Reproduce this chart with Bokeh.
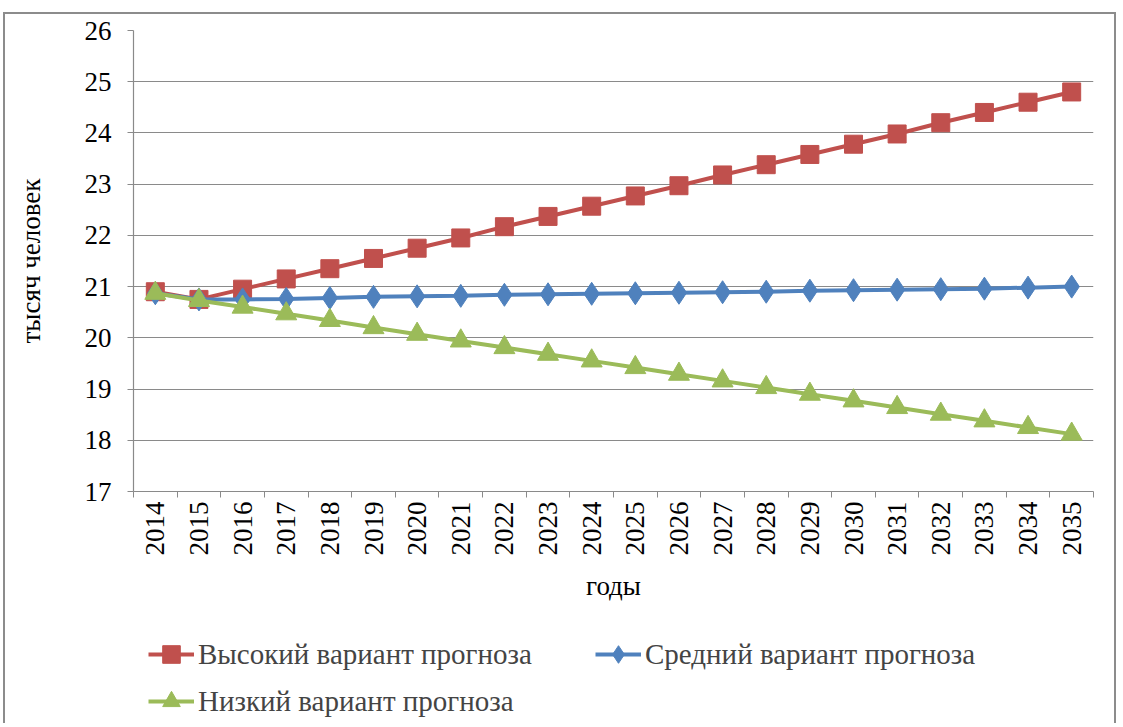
from bokeh.plotting import figure
from bokeh.models import FixedTicker, Legend, LegendItem, Range1d
from bokeh.layouts import column
from bokeh.embed import file_html
from bokeh.resources import INLINE
import math

years = [str(y) for y in range(2014, 2036)]
high = [20.9, 20.75, 20.95, 21.15, 21.35, 21.55, 21.75, 21.95, 22.17, 22.37, 22.57,
        22.77, 22.97, 23.18, 23.38, 23.58, 23.78, 23.98, 24.2, 24.4, 24.6, 24.8]
mid = [20.87, 20.75, 20.75, 20.76, 20.78, 20.8, 20.81, 20.82, 20.84, 20.85, 20.86,
       20.87, 20.88, 20.89, 20.9, 20.92, 20.93, 20.94, 20.95, 20.96, 20.98, 21.0]
low = [20.87, 20.73, 20.6, 20.47, 20.34, 20.2, 20.07, 19.94, 19.81, 19.68, 19.55,
       19.42, 19.29, 19.16, 19.03, 18.9, 18.77, 18.64, 18.51, 18.38, 18.25, 18.12]
labels = ["Высокий вариант прогноза", "Средний вариант прогноза", "Низкий вариант прогноза"]
y_ticks = list(range(17, 27))

RED, BLUE, GREEN = "#C0504D", "#4F81BD", "#9BBB59"
GRID = "#8a8a8a"
BORDER = "2px solid #8c8c8c"
FONT = "Liberation Serif"

x = list(range(len(years)))

p = figure(width=1113, height=596, output_backend="svg", toolbar_location=None,
           x_range=(-0.5, len(years) - 0.5), y_range=(17, 26),
           min_border_left=128, min_border_top=16, min_border_right=25,
           min_border_bottom=119)
p.styles = {"border-top": BORDER, "border-left": BORDER, "border-right": BORDER,
            "margin-left": "3px", "margin-top": "12px"}
p.outline_line_color = None
p.xgrid.grid_line_color = None
p.ygrid.grid_line_color = GRID
p.ygrid.grid_line_width = 1.2

p.xaxis.ticker = FixedTicker(ticks=x, minor_ticks=[i - 0.5 for i in range(len(years) + 1)])
p.xaxis.major_label_overrides = {i: years[i] for i in x}
p.xaxis.major_label_orientation = math.pi / 2
p.xaxis.major_tick_line_color = None
p.xaxis.major_tick_out = 6
p.xaxis.major_tick_in = 0
p.xaxis.major_label_standoff = 4
p.xaxis.minor_tick_line_color = GRID
p.xaxis.minor_tick_out = 6
p.xaxis.minor_tick_in = 0
p.xaxis.axis_label = "годы"
p.xaxis.axis_label_standoff = 12

p.yaxis.ticker = FixedTicker(ticks=y_ticks)
p.yaxis.minor_tick_line_color = None
p.yaxis.major_tick_out = 6
p.yaxis.major_tick_in = 0
p.yaxis.major_tick_line_color = GRID
p.yaxis.major_label_standoff = 16
p.yaxis.axis_label = "тысяч человек"
p.yaxis.axis_label_standoff = 36

for ax in (p.xaxis[0], p.yaxis[0]):
    ax.axis_line_color = GRID
    ax.axis_line_width = 1.2
    ax.major_label_text_font = FONT
    ax.major_label_text_font_size = "27px"
    ax.major_label_text_color = "black"
    ax.axis_label_text_font = FONT
    ax.axis_label_text_font_size = "27px"
    ax.axis_label_text_font_style = "normal"
    ax.axis_label_text_color = "black"

styles = [
    (high, RED, "square", 18),
    (mid, BLUE, "diamond", 23),
    (low, GREEN, "triangle", 21),
]
for vals, col, mk, sz in styles:
    p.line(x, vals, line_color=col, line_width=4)
    p.scatter(x, vals, marker=mk, size=sz, fill_color=col, line_color=col)

# legend panel
p2 = figure(width=1113, height=115, output_backend="svg", toolbar_location=None,
            x_range=Range1d(0, 1113), y_range=Range1d(0, 115),
            min_border_left=0, min_border_right=0, min_border_top=0, min_border_bottom=0)
p2.styles = {"border-left": BORDER, "border-right": BORDER, "margin-left": "3px"}
p2.axis.visible = False
p2.grid.grid_line_color = None
p2.outline_line_color = None

common = dict(orientation="horizontal", background_fill_alpha=0, border_line_color=None,
              padding=0, margin=0, glyph_width=46, glyph_height=44, label_standoff=4,
              label_text_font=FONT, label_text_font_size="29px", label_height=44)
locs = [(15, 47), (462, 47), (15, 0)]
for (vals, col, mk, sz), lab, loc in zip(styles, labels, locs):
    # legend-only renderers, placed outside the visible range
    rl = p2.line([-500, -400], [-500, -500], line_color=col, line_width=4)
    rm = p2.scatter([-500], [-500], marker=mk, size=sz, fill_color=col, line_color=col)
    lg = Legend(items=[LegendItem(label=lab, renderers=[rl, rm])], location=loc, **common)
    p2.add_layout(lg, "center")

layout = column(p, p2, spacing=0)
open("out.html", "w").write(file_html(layout, INLINE))
